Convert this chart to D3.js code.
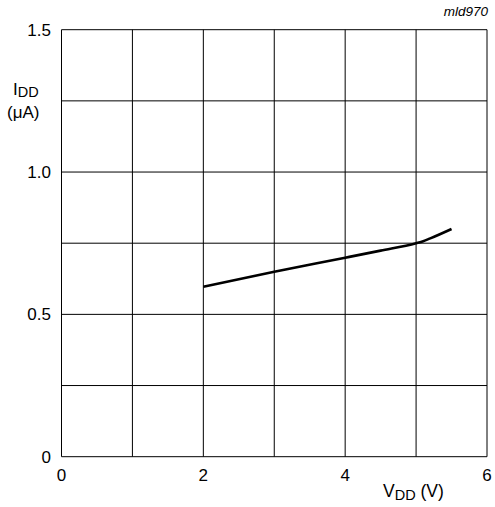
<!DOCTYPE html>
<html>
<head>
<meta charset="utf-8">
<script src="https://cdn.jsdelivr.net/npm/d3@7"></script>
<style>
  body { margin: 0; background: #fff; }
  text { font-family: "Liberation Sans", Arial, sans-serif; fill: #000; }
</style>
</head>
<body>
<svg id="chart"></svg>
<script>
var vdd = [2, 3, 4, 4.5, 5, 5.1, 5.2, 5.5];
var idd = [0.597, 0.650, 0.699, 0.724, 0.750, 0.757, 0.767, 0.800];
var xTicks = [0, 2, 4, 6];
var yTicks = [0, 0.5, 1.0, 1.5];
var xGrid = [0, 1, 2, 3, 4, 5, 6];
var yGrid = [0, 0.25, 0.5, 0.75, 1.0, 1.25, 1.5];

var W = 495, H = 507;
var plotLeft = 61.5, plotRight = 487, plotTop = 29.7, plotBottom = 456.7;

var svg = d3.select('#chart').attr('width', W).attr('height', H);

var x = d3.scaleLinear().domain([0, 6]).range([plotLeft, plotRight]);
var y = d3.scaleLinear().domain([0, 1.5]).range([plotBottom, plotTop]);

// grid
svg.append('g').selectAll('line').data(xGrid).enter().append('line')
  .attr('x1', d => x(d)).attr('x2', d => x(d))
  .attr('y1', plotTop).attr('y2', plotBottom)
  .attr('stroke', '#000').attr('stroke-width', 1);

svg.append('g').selectAll('line').data(yGrid).enter().append('line')
  .attr('x1', plotLeft).attr('x2', plotRight)
  .attr('y1', d => y(d)).attr('y2', d => y(d))
  .attr('stroke', '#000').attr('stroke-width', 1);

// tick labels
svg.append('g').selectAll('text').data(yTicks).enter().append('text')
  .attr('x', 51).attr('y', d => y(d)).attr('dy', '0.36em')
  .attr('text-anchor', 'end').style('font-size', '17px')
  .text(d => d === 0 ? '0' : d.toFixed(1));

svg.append('g').selectAll('text').data(xTicks).enter().append('text')
  .attr('x', d => x(d)).attr('y', 481)
  .attr('text-anchor', 'middle').style('font-size', '17px')
  .text(d => d);

// axis titles
var yt = svg.append('text').attr('x', 13).attr('y', 95).style('font-size', '17px');
yt.append('tspan').text('I');
yt.append('tspan').attr('dy', 1.5).style('font-size', '14.5px').text('DD');
svg.append('text').attr('x', 7).attr('y', 118).style('font-size', '17px').text('(\u03bcA)');

var xt = svg.append('text').attr('x', 383).attr('y', 497).style('font-size', '17.5px');
xt.append('tspan').text('V');
xt.append('tspan').attr('dy', 3).style('font-size', '14.5px').text('DD');
xt.append('tspan').attr('dy', -3).text(' (V)');

svg.append('text').attr('x', 488).attr('y', 16).attr('text-anchor', 'end')
  .style('font-size', '13.5px').style('font-style', 'italic').text('mld970');

// curve
var line = d3.line().x((d, i) => x(vdd[i])).y(d => y(d)).curve(d3.curveMonotoneX);
svg.append('path').datum(idd)
  .attr('d', line)
  .attr('fill', 'none').attr('stroke', '#000').attr('stroke-width', 2.6);
</script>
</body>
</html>
